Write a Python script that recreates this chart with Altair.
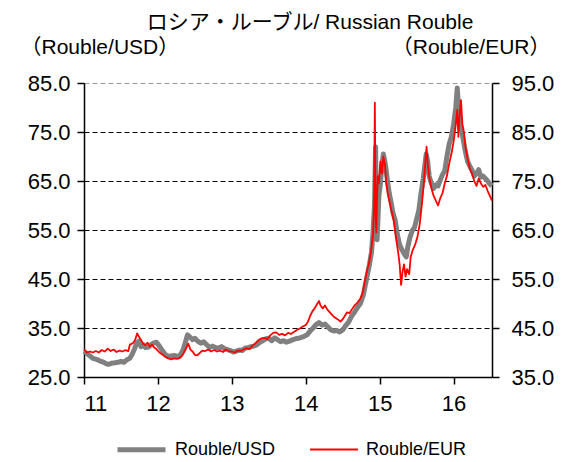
import altair as alt
import pandas as pd

SERIES = ["Rouble/USD", "Rouble/EUR"]
X_TICKS = [11, 12, 13, 14, 15, 16]
LEFT_TICKS = [25, 35, 45, 55, 65, 75, 85]
RIGHT_TICKS = [35, 45, 55, 65, 75, 85, 95]

usd_t = [11.00, 11.04, 11.08, 11.12, 11.17, 11.21, 11.25, 11.29, 11.33, 11.37, 11.42, 11.46, 11.50, 11.54,
         11.58, 11.62, 11.65, 11.68, 11.71, 11.74, 11.77, 11.80, 11.83, 11.87, 11.90, 11.94, 11.98, 12.02,
         12.06, 12.10, 12.14, 12.18, 12.22, 12.26, 12.30, 12.34, 12.37, 12.40, 12.43, 12.47, 12.50, 12.54,
         12.58, 12.62, 12.66, 12.70, 12.74, 12.78, 12.82, 12.86, 12.90, 12.94, 12.98, 13.02, 13.06, 13.10,
         13.14, 13.18, 13.22, 13.26, 13.30, 13.34, 13.38, 13.42, 13.46, 13.50, 13.54, 13.58, 13.62, 13.66,
         13.70, 13.74, 13.78, 13.82, 13.86, 13.90, 13.94, 13.98, 14.02, 14.06, 14.10, 14.14, 14.18, 14.22,
         14.26, 14.30, 14.34, 14.38, 14.42, 14.46, 14.50, 14.54, 14.58, 14.62, 14.66, 14.70, 14.74, 14.78,
         14.82, 14.86, 14.89, 14.91, 14.93, 14.945, 14.955, 14.965, 14.975, 14.99, 15.01, 15.03, 15.05,
         15.07, 15.09, 15.11, 15.13, 15.15, 15.18, 15.21, 15.24, 15.27, 15.30, 15.33, 15.36, 15.38, 15.41,
         15.44, 15.47, 15.50, 15.53, 15.56, 15.59, 15.61, 15.63, 15.65, 15.67, 15.70, 15.73, 15.76, 15.79,
         15.82, 15.85, 15.88, 15.91, 15.94, 15.97, 16.00, 16.03, 16.05, 16.07, 16.10, 16.13, 16.16, 16.19,
         16.22, 16.25, 16.28, 16.31, 16.34, 16.37, 16.40, 16.43, 16.46, 16.49, 16.52]
usd_v = [30.2, 29.8, 29.3, 28.8, 28.6, 28.3, 28.1, 27.8, 27.6, 27.8, 27.9, 28.0, 28.2, 28.0,
         28.5, 28.8, 29.6, 30.6, 31.8, 32.3, 31.2, 31.6, 31.0, 31.1, 31.5, 31.9, 32.1, 31.3,
         30.4, 29.6, 29.2, 29.3, 29.4, 29.2, 29.4, 30.5, 32.0, 33.6, 33.2, 32.6, 32.9, 32.3,
         31.9, 32.2, 31.6, 31.0, 31.3, 31.0, 30.9, 31.2, 30.8, 30.6, 30.4, 30.1, 30.3, 30.5,
         30.4, 30.9, 31.0, 31.2, 31.3, 31.6, 32.1, 32.4, 32.8, 32.9, 32.4, 33.0, 32.6, 32.2,
         32.4, 32.1, 32.3, 32.6, 32.8, 32.9, 33.1, 33.3, 33.6, 34.4, 35.0, 35.7, 36.1, 35.6,
         35.8, 35.2, 34.6, 34.4, 34.5, 34.2, 34.6, 35.5, 36.2, 37.4, 38.2, 39.2, 40.0, 41.8,
         44.8, 47.8, 50.5, 54.5, 60.0, 72.0, 58.5, 53.0, 56.5, 62.0, 64.5, 68.0, 70.5,
         69.0, 67.0, 64.5, 62.5, 61.0, 58.5, 57.0, 54.0, 52.0, 51.0, 50.2, 49.5, 51.5, 53.5,
         54.8, 55.5, 57.2, 59.0, 62.5, 65.5, 68.0, 70.5, 69.0, 66.0, 64.5, 63.5, 64.2, 64.0,
         65.2, 66.3, 67.0, 70.0, 72.5, 74.0, 76.5, 80.0, 84.0, 79.5, 76.0, 73.5, 71.0, 69.0,
         68.0, 67.2, 66.0, 66.5, 67.3, 65.8, 66.0, 65.5, 65.0, 64.4, 64.0]

eur_t = [11.00, 11.04, 11.08, 11.12, 11.16, 11.20, 11.24, 11.28, 11.32, 11.36, 11.40, 11.44, 11.48, 11.52,
         11.56, 11.60, 11.62, 11.66, 11.69, 11.72, 11.74, 11.77, 11.80, 11.83, 11.86, 11.89, 11.92, 11.95,
         11.98, 12.02, 12.06, 12.10, 12.14, 12.18, 12.22, 12.26, 12.30, 12.34, 12.38, 12.41, 12.44, 12.47,
         12.50, 12.53, 12.56, 12.60, 12.64, 12.68, 12.72, 12.76, 12.80, 12.84, 12.88, 12.92, 12.96, 13.00,
         13.04, 13.08, 13.12, 13.16, 13.20, 13.24, 13.28, 13.32, 13.36, 13.40, 13.44, 13.48, 13.52, 13.56,
         13.60, 13.64, 13.68, 13.72, 13.76, 13.80, 13.84, 13.88, 13.92, 13.96, 14.00, 14.03, 14.06, 14.09,
         14.12, 14.15, 14.18, 14.20, 14.23, 14.26, 14.29, 14.32, 14.35, 14.38, 14.41, 14.44, 14.47, 14.50,
         14.53, 14.56, 14.59, 14.62, 14.66, 14.70, 14.74, 14.77, 14.80, 14.83, 14.86, 14.89, 14.91, 14.925,
         14.935, 14.945, 14.955, 14.965, 14.975, 14.99, 15.01, 15.03, 15.05, 15.07, 15.09, 15.11, 15.13,
         15.16, 15.19, 15.22, 15.25, 15.27, 15.29, 15.31, 15.33, 15.35, 15.37, 15.40, 15.42, 15.45, 15.48,
         15.51, 15.54, 15.57, 15.60, 15.62, 15.635, 15.65, 15.67, 15.70, 15.73, 15.76, 15.79, 15.82, 15.85,
         15.88, 15.91, 15.94, 15.97, 16.00, 16.03, 16.05, 16.065, 16.08, 16.10, 16.12, 16.14, 16.16, 16.19,
         16.22, 16.25, 16.28, 16.31, 16.34, 16.37, 16.40, 16.43, 16.46, 16.49, 16.52]
eur_v = [40.6, 40.0, 40.2, 40.0, 40.3, 40.0, 40.5, 40.2, 40.8, 40.3, 40.6, 40.1, 40.4, 40.2,
         40.5, 40.3, 41.6, 41.9, 42.5, 43.9, 43.3, 42.6, 41.8, 41.5, 42.0, 41.2, 41.6, 41.0,
         40.7, 40.0, 39.6, 39.1, 38.8, 38.6, 38.8, 38.7, 38.9, 39.6, 40.8, 41.8, 40.6, 40.2,
         39.5, 39.4, 39.8, 40.4, 40.3, 40.6, 40.2, 40.5, 40.2, 40.4, 40.1, 40.6, 40.3, 40.2,
         40.0, 40.4, 40.3, 40.6, 40.9, 40.7, 41.4, 41.9, 42.5, 42.9, 43.0, 42.7, 43.5, 44.0,
         44.1, 43.6, 43.8, 43.5, 44.0, 43.8, 44.2, 44.6, 44.9, 45.3, 45.6, 46.3, 47.5, 48.4,
         49.0, 49.8, 50.5, 49.6, 49.0, 49.6, 48.8, 48.3, 47.8, 47.3, 47.0, 46.7, 46.3, 46.8,
         47.5, 48.2, 48.0, 48.7, 49.6, 50.2, 51.0, 52.2, 54.5, 56.8, 58.5, 61.5, 64.0, 70.0,
         91.0, 68.0, 64.5, 72.0, 76.0, 74.5, 79.0, 76.5, 80.0, 78.5, 74.5, 72.5, 71.0,
         69.0, 67.0, 63.5, 60.5, 58.0, 53.8, 56.5, 58.0, 55.5, 57.0, 56.0, 59.5, 61.0, 62.0,
         63.5, 66.0, 70.0, 75.0, 79.5, 82.0, 78.5, 76.0, 73.5, 72.0, 71.0, 70.0, 71.5, 72.5,
         74.5, 76.0, 78.5, 80.5, 83.0, 86.5, 89.5, 84.0, 88.0, 91.5, 86.5, 85.0, 82.0, 79.5,
         77.5, 76.5, 75.0, 74.0, 75.5, 74.5, 73.8, 74.2, 73.0, 72.0, 71.0]

df = pd.concat([
    pd.DataFrame({"t": usd_t, "v": usd_v, "s": SERIES[0]}),
    pd.DataFrame({"t": eur_t, "v": eur_v, "s": SERIES[1]}),
], ignore_index=True)

FONT = "Liberation Sans, Noto Sans CJK JP, sans-serif"
LBL = 22
TTL = 21

x_enc = alt.X(
    "t:Q",
    scale=alt.Scale(domain=[11, 16.52], nice=False, zero=False),
    axis=alt.Axis(values=X_TICKS, format="d", title=None, grid=False,
                  labelFontSize=LBL, labelFont=FONT, labelColor="black",
                  tickSize=7, tickColor="black", tickWidth=1.5,
                  domainColor="black", domainWidth=1.5, labelPadding=9),
)

color_enc = alt.Color(
    "s:N",
    scale=alt.Scale(domain=SERIES, range=["#808080", "#ff0000"]),
    legend=alt.Legend(title=None, orient="none", legendX=31, legendY=340,
                      direction="horizontal", symbolType="stroke", symbolSize=2300,
                      labelFontSize=18, labelFont=FONT, labelColor="black",
                      labelOffset=7, columnPadding=30, padding=0),
)
sw_enc = alt.StrokeWidth(
    "s:N",
    scale=alt.Scale(domain=SERIES, range=[5, 1.8]),
    legend=alt.Legend(title=None, orient="none", legendX=31, legendY=340,
                      direction="horizontal"),
)

base = alt.Chart(df)

usd = base.transform_filter(alt.datum.s == SERIES[0]).mark_line(strokeJoin="round").encode(
    x=x_enc,
    y=alt.Y("v:Q", scale=alt.Scale(domain=[25, 85], nice=False, zero=False),
            axis=alt.Axis(orient="left", values=LEFT_TICKS, format=".1f",
                          title="（Rouble/USD）", titleAngle=0, titleAlign="left",
                          titleBaseline="middle", titleX=-64, titleY=-36,
                          titleFont=FONT, titleFontSize=TTL, titleFontWeight="normal",
                          titleColor="black",
                          labelFontSize=LBL, labelFont=FONT, labelColor="black",
                          tickSize=7, tickColor="black", tickWidth=1.5,
                          domainColor="black", domainWidth=1.5, labelPadding=7,
                          grid=True, gridDash=[5, 3], gridWidth=1,
                          gridColor={"condition": {"test": "datum.value === 85", "value": "#9a9a9a"},
                                     "value": "black"})),
    color=color_enc,
    strokeWidth=sw_enc,
)

eur = base.transform_filter(alt.datum.s == SERIES[1]).mark_line(strokeJoin="round").encode(
    x=x_enc,
    y=alt.Y("v:Q", scale=alt.Scale(domain=[35, 95], nice=False, zero=False),
            axis=alt.Axis(orient="right", values=RIGHT_TICKS, format=".1f",
                          title="（Rouble/EUR）", titleAngle=0, titleAlign="right",
                          titleBaseline="middle", titleX=58, titleY=-36,
                          titleFont=FONT, titleFontSize=TTL, titleFontWeight="normal",
                          titleColor="black",
                          labelFontSize=LBL, labelFont=FONT, labelColor="black",
                          tickSize=7, tickColor="black", tickWidth=1.5,
                          domainColor="black", domainWidth=1.5, labelPadding=12,
                          grid=False)),
    color=color_enc,
    strokeWidth=sw_enc,
)

chart = alt.layer(usd, eur).resolve_scale(y="independent").properties(
    width=408,
    height=294,
    padding={"left": 76, "top": 75, "right": 69, "bottom": 85},
    autosize=alt.AutoSizeParams(type="none"),
    title=alt.TitleParams("ロシア・ルーブル/  Russian Rouble", font=FONT, fontSize=TTL,
                          fontWeight="normal", color="black", anchor="middle", offset=3, dx=22),
).configure_view(stroke=None)

chart.save("out.html", embed_options={"renderer": "svg", "actions": False})
